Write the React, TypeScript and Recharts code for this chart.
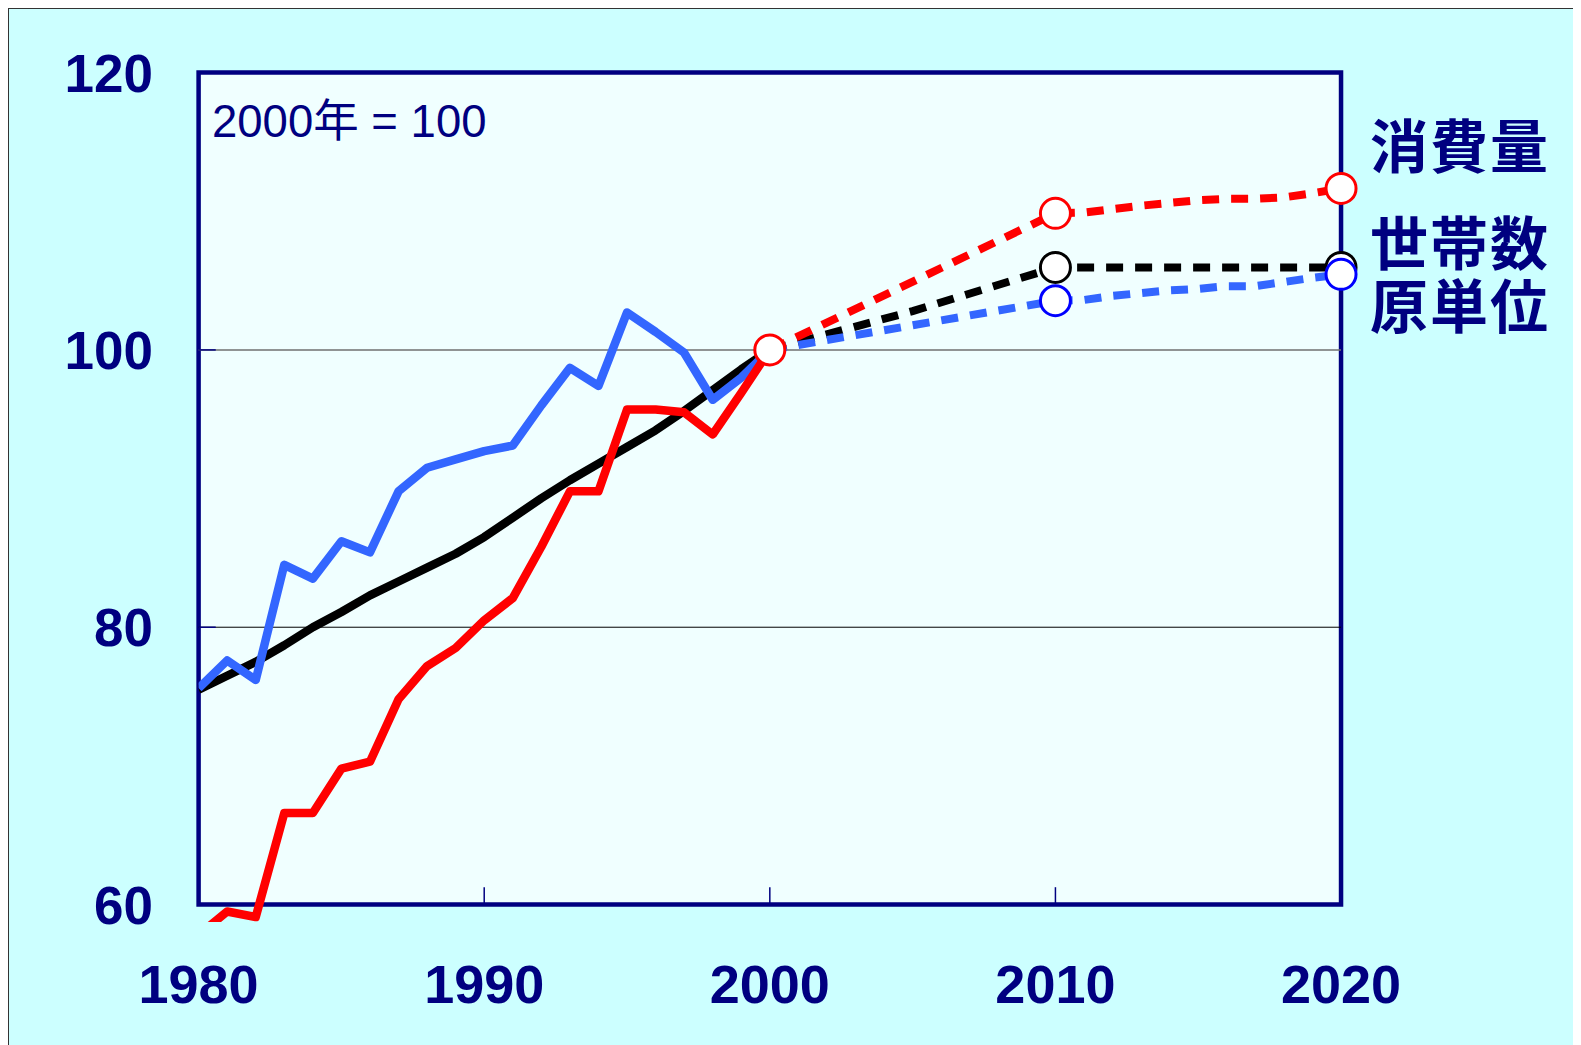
import React from "react";
import { LineChart, Line, XAxis, YAxis, ReferenceArea, ReferenceLine, Customized } from "recharts";

// ---- data (index, 2000 = 100) ----
const YEARS = [
  1980, 1981, 1982, 1983, 1984, 1985, 1986, 1987, 1988, 1989, 1990,
  1991, 1992, 1993, 1994, 1995, 1996, 1997, 1998, 1999, 2000,
  2001, 2002, 2003, 2004, 2005, 2006, 2007, 2008, 2009, 2010,
  2011, 2012, 2013, 2014, 2015, 2016, 2017, 2018, 2019, 2020,
];

// 1980-2000 actuals
const HOUSEHOLDS_HIST = [75.5, 76.5, 77.5, 78.7, 80.0, 81.1, 82.3, 83.3, 84.3, 85.3, 86.5, 87.9, 89.3, 90.6, 91.8, 93.0, 94.2, 95.6, 97.1, 98.6, 100];
const UNIT_HIST = [75.6, 77.6, 76.2, 84.5, 83.5, 86.2, 85.4, 89.8, 91.5, 92.1, 92.7, 93.1, 96.0, 98.7, 97.4, 102.7, 101.3, 99.8, 96.4, 98.0, 100];
const CONSUMPTION_HIST = [57.8, 59.5, 59.1, 66.6, 66.6, 69.8, 70.3, 74.8, 77.2, 78.5, 80.5, 82.1, 85.8, 89.8, 89.8, 95.7, 95.7, 95.5, 93.9, 96.9, 100];

// 2000-2020 outlook
const HOUSEHOLDS_FC = [100, null, null, null, null, 102.8, null, null, null, null, 105.95, null, null, null, null, null, null, null, null, null, 105.95];
const UNIT_FC = [100, null, null, null, null, null, null, null, null, null, 103.55, 103.6, 103.9, 104.1, 104.3, 104.4, 104.6, 104.6, 104.9, 105.2, 105.45];
const CONSUMPTION_FC = [100, null, null, null, null, null, null, null, null, null, 109.85, 109.9, 110.15, 110.4, 110.6, 110.8, 110.9, 110.9, 111.0, 111.3, 111.65];

const X_TICKS = [1980, 1990, 2000, 2010, 2020];
const Y_TICKS = [60, 80, 100, 120];
const INNER_X_TICKS = [1990, 2000, 2010];
const SERIES_LABELS = ["消費量", "世帯数", "原単位"];
const BASE_NOTE = "2000年 = 100";

const HIST_START = 1980;
const FC_START = 2000;

const data = YEARS.map((year) => {
  const hi = year - HIST_START;
  const fi = year - FC_START;
  return {
    year,
    hh: hi >= 0 && hi < HOUSEHOLDS_HIST.length ? HOUSEHOLDS_HIST[hi] : null,
    unit: hi >= 0 && hi < UNIT_HIST.length ? UNIT_HIST[hi] : null,
    cons: hi >= 0 && hi < CONSUMPTION_HIST.length ? CONSUMPTION_HIST[hi] : null,
    hhF: fi >= 0 ? HOUSEHOLDS_FC[fi] : null,
    unitF: fi >= 0 ? UNIT_FC[fi] : null,
    consF: fi >= 0 ? CONSUMPTION_FC[fi] : null,
  };
});

const NAVY = "#000080";
const NUM_FONT = "'Liberation Sans', Arial, sans-serif";
const CJK_FONT = "'Noto Sans CJK JP', 'Noto Sans CJK SC', sans-serif";
const NOTE_FONT = "'Liberation Sans', 'Noto Sans CJK JP', sans-serif";

const makeDot = (color: string, years: number[]) => (props: any) => {
  const { cx, cy, payload } = props;
  const k = `dot-${color}-${payload?.year}`;
  if (cx == null || cy == null || !payload || !years.includes(payload.year)) return <g key={k} />;
  return <circle key={k} cx={cx} cy={cy} r={15} fill="#ffffff" stroke={color} strokeWidth={3} />;
};

const XTick = (props: any) => {
  const { x, payload } = props;
  return (
    <text x={x} y={994} textAnchor="middle" fill={NAVY} fontFamily={NUM_FONT} fontWeight="bold" fontSize={54}>
      {payload.value}
    </text>
  );
};

const YTick = (props: any) => {
  const { y, payload } = props;
  return (
    <text x={144} y={y + 19} textAnchor="end" fill={NAVY} fontFamily={NUM_FONT} fontWeight="bold" fontSize={53}>
      {payload.value}
    </text>
  );
};

const NoteLabel = () => (
  <text x={203} y={128} fill={NAVY} fontFamily={NOTE_FONT} fontSize={45.5}>
    {BASE_NOTE}
  </text>
);

const Labels = () => (
  <g>
    <text x={1361} y={133.5} dominantBaseline="central" fill={NAVY} fontFamily={CJK_FONT} fontWeight="bold" fontSize={58} letterSpacing={2}>
      {SERIES_LABELS[0]}
    </text>
    <text x={1361} y={231} dominantBaseline="central" fill={NAVY} fontFamily={CJK_FONT} fontWeight="bold" fontSize={58} letterSpacing={2}>
      {SERIES_LABELS[1]}
    </text>
    <text x={1361} y={293.5} dominantBaseline="central" fill={NAVY} fontFamily={CJK_FONT} fontWeight="bold" fontSize={58} letterSpacing={2}>
      {SERIES_LABELS[2]}
    </text>
  </g>
);

export default function App() {
  return (
    <div
      style={{
        width: 1572,
        height: 1036,
        background: "#CCFFFF",
        borderTop: "1px solid #333",
        borderLeft: "1px solid #333",
      }}
    >
      <LineChart
        width={1572}
        height={1036}
        data={data}
        margin={{ top: 63.6, right: 211.4, bottom: 43, left: 39.6 }}
      >
        <XAxis
          dataKey="year"
          type="number"
          domain={[1980, 2021]}
          allowDataOverflow
          ticks={X_TICKS}
          axisLine={false}
          tickLine={false}
          tick={<XTick />}
          height={80}
          interval={0}
        />
        <YAxis
          type="number"
          domain={[58.74, 120]}
          allowDataOverflow
          ticks={Y_TICKS}
          axisLine={false}
          tickLine={false}
          tick={<YTick />}
          width={150}
          interval={0}
        />
        <ReferenceArea
          x1={1980}
          x2={2020}
          y1={60}
          y2={120}
          fill="#F0FFFF"
          fillOpacity={1}
          stroke={NAVY}
          strokeWidth={4.5}
          label={<NoteLabel />}
        />
        <ReferenceLine segment={[{ x: 1980, y: 100 }, { x: 2020, y: 100 }]} stroke="#707070" strokeWidth={1.5} />
        <ReferenceLine segment={[{ x: 1980, y: 80 }, { x: 2020, y: 80 }]} stroke="#000000" strokeWidth={1} />
        <ReferenceLine segment={[{ x: 1980, y: 100 }, { x: 1980.6, y: 100 }]} stroke={NAVY} strokeWidth={1.5} />
        <ReferenceLine segment={[{ x: 1980, y: 80 }, { x: 1980.6, y: 80 }]} stroke={NAVY} strokeWidth={1.5} />
        {INNER_X_TICKS.map((yr) => (
          <ReferenceLine key={yr} segment={[{ x: yr, y: 60 }, { x: yr, y: 61.25 }]} stroke={NAVY} strokeWidth={1.5} />
        ))}
        <Line dataKey="hh" stroke="#000000" strokeWidth={8.5} dot={false} activeDot={false} isAnimationActive={false} strokeLinejoin="round" />
        <Line dataKey="unit" stroke="#3366FF" strokeWidth={8.5} dot={false} activeDot={false} isAnimationActive={false} strokeLinejoin="round" />
        <Line dataKey="cons" stroke="#FF0000" strokeWidth={8.5} dot={false} activeDot={false} isAnimationActive={false} strokeLinejoin="round" />
        <Line dataKey="hhF" stroke="#000000" strokeWidth={8} strokeDasharray="17 12" connectNulls dot={makeDot("#000000", [2010, 2020])} activeDot={false} isAnimationActive={false} />
        <Line dataKey="unitF" stroke="#3366FF" strokeWidth={8} strokeDasharray="17 12" connectNulls dot={makeDot("#0000FF", [2010, 2020])} activeDot={false} isAnimationActive={false} />
        <Line dataKey="consF" stroke="#FF0000" strokeWidth={8} strokeDasharray="17 12" connectNulls dot={makeDot("#FF0000", [2000, 2010, 2020])} activeDot={false} isAnimationActive={false} />
        <Customized component={<Labels />} />
      </LineChart>
    </div>
  );
}
